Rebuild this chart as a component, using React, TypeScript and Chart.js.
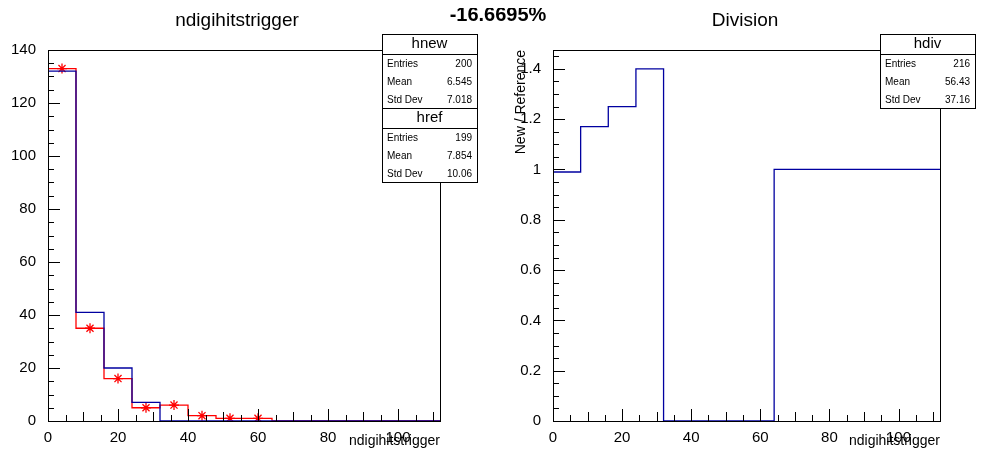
import React, { useEffect, useRef } from "react";
import { Chart, registerables } from "chart.js";
Chart.register(...registerables);

const binEdges = [0, 8, 16, 24, 32, 40, 48, 56, 64, 72, 80, 88, 96, 104, 112];
const hnew = [132, 41, 20, 7, 0, 0, 0, 0, 0, 0, 0, 0, 0, 0];
const href = [133, 35, 16, 5, 6, 2, 1, 1, 0, 0, 0, 0, 0, 0];
const hdiv = [0.99, 1.17, 1.25, 1.4, 0, 0, 0, 0, 1, 1, 1, 1, 1, 1];
const hnewStats = [["Entries", "200"], ["Mean", "6.545"], ["Std Dev", "7.018"]];
const hrefStats = [["Entries", "199"], ["Mean", "7.854"], ["Std Dev", "10.06"]];
const hdivStats = [["Entries", "216"], ["Mean", "56.43"], ["Std Dev", "37.16"]];
const FONT = "'Liberation Sans', Arial, sans-serif";

const stepPts = (v: number[]) => {
  const p: { x: number; y: number }[] = [];
  v.forEach((y, i) => {
    p.push({ x: binEdges[i], y });
    p.push({ x: binEdges[i + 1], y });
  });
  return p;
};

function statBox(ctx: any, x: number, y: number, w: number, title: string, rows: string[][]) {
  const h = 74;
  ctx.save();
  ctx.fillStyle = "#fff";
  ctx.fillRect(x, y, w, h);
  ctx.strokeStyle = "#000";
  ctx.lineWidth = 1;
  ctx.strokeRect(x + 0.5, y + 0.5, w, h);
  ctx.beginPath();
  ctx.moveTo(x, y + 20.5);
  ctx.lineTo(x + w, y + 20.5);
  ctx.stroke();
  ctx.fillStyle = "#000";
  ctx.font = `15px ${FONT}`;
  ctx.textAlign = "center";
  ctx.textBaseline = "middle";
  ctx.fillText(title, x + w / 2, y + 10);
  ctx.font = `10px ${FONT}`;
  rows.forEach((r, i) => {
    const yy = y + 30 + i * 18;
    ctx.textAlign = "left";
    ctx.fillText(r[0], x + 5, yy);
    ctx.textAlign = "right";
    ctx.fillText(r[1], x + w - 5, yy);
  });
  ctx.restore();
}

function makePlugin(opts: any) {
  return {
    id: "rootdeco",
    afterDraw(chart: any) {
      const ctx = chart.ctx;
      const a = chart.chartArea;
      const xs = chart.scales.x, ys = chart.scales.y;
      ctx.save();
      ctx.strokeStyle = "#000";
      ctx.lineWidth = 1;
      ctx.strokeRect(a.left + 0.5, a.top + 0.5, a.right - a.left, a.bottom - a.top);
      ctx.beginPath();
      for (let v = 0; v <= 112; v += 5) {
        const px = Math.round(xs.getPixelForValue(v)) + 0.5;
        const len = v % 20 === 0 ? 12 : v % 10 === 0 ? 9 : 6;
        ctx.moveTo(px, a.bottom);
        ctx.lineTo(px, a.bottom - len);
      }
      for (let k = 0; k * opts.yMinor <= opts.yMax + 1e-9; k++) {
        const v = k * opts.yMinor;
        const py = Math.round(ys.getPixelForValue(v)) + 0.5;
        const len = k % 4 === 0 ? 12 : 6;
        ctx.moveTo(a.left, py);
        ctx.lineTo(a.left + len, py);
      }
      ctx.stroke();
      ctx.fillStyle = "#000";
      ctx.font = `19px ${FONT}`;
      ctx.textAlign = "center";
      ctx.textBaseline = "middle";
      ctx.fillText(opts.title, opts.titleX, 21);
      ctx.font = `14px ${FONT}`;
      ctx.textAlign = "right";
      ctx.textBaseline = "alphabetic";
      ctx.fillText("ndigihitstrigger", a.right, 445);
      if (opts.yTitle) {
        ctx.save();
        ctx.translate(27, a.top);
        ctx.rotate(-Math.PI / 2);
        ctx.textAlign = "right";
        ctx.fillText(opts.yTitle, 0, 0);
        ctx.restore();
      }
      opts.boxes.forEach((b: any) => statBox(ctx, b.x, b.y, b.w, b.title, b.rows));
      ctx.restore();
    },
  };
}

function Panel({ datasets, opts, left, padLeft, padRight, yStep }: any) {
  const ref = useRef<HTMLCanvasElement>(null);
  useEffect(() => {
    const ch = new Chart(ref.current!, {
      type: "line",
      data: { datasets },
      options: {
        animation: false,
        responsive: false,
        layout: { padding: { top: 50, right: padRight, left: 0, bottom: 0 } },
        plugins: { legend: { display: false }, tooltip: { enabled: false } },
        scales: {
          x: {
            type: "linear", min: 0, max: 112,
            grid: { display: false }, border: { display: false },
            ticks: {
              stepSize: 20, color: "#000", font: { family: FONT, size: 15 }, padding: 0, maxRotation: 0,
              callback: (v: any) => (v % 20 === 0 ? String(v) : ""),
            },
            afterFit: (s: any) => { s.height = 51; },
          },
          y: {
            min: 0, max: opts.yMax,
            grid: { display: false }, border: { display: false },
            ticks: {
              stepSize: yStep, color: "#000", font: { family: FONT, size: 15 }, padding: 4,
              callback: (v: any) => {
                const r = v / yStep;
                if (Math.abs(r - Math.round(r)) > 1e-6) return "";
                if (opts.yMax < 2) return Math.abs(v - 1) < 1e-9 ? "1" : Math.abs(v) < 1e-9 ? "0" : Number(v).toFixed(1);
                return String(v);
              },
            },
            afterFit: (s: any) => { s.width = padLeft; },
          },
        },
      },
      plugins: [makePlugin(opts)],
    });
    return () => ch.destroy();
  }, []);
  return <canvas ref={ref} width={498} height={472} style={{ position: "absolute", left, top: 0, width: 498, height: 472 }} />;
}

export default function App() {
  const line = (data: any, color: string) => ({
    data, borderColor: color, borderWidth: 1.3, pointRadius: 0, fill: false, tension: 0,
  });
  const leftSets = [
    line(stepPts(hnew), "#0000a0"),
    line(stepPts(href), "#ff0000"),
    {
      type: "scatter", data: href.map((y, i) => ({ x: binEdges[i] + 4, y })).filter((p) => p.y > 0),
      pointStyle: "star", pointRadius: 5, borderColor: "#ff0000", borderWidth: 1.3, showLine: false,
    },
  ];
  const rightSets = [line(stepPts(hdiv), "#0000a0")];
  return (
    <div style={{ position: "relative", width: 996, height: 472, margin: -8, background: "#fff" }}>
      <Panel datasets={leftSets} left={0} padLeft={48} padRight={58} yStep={20}
        opts={{ yMax: 140, yMinor: 5, title: "ndigihitstrigger", titleX: 237, yTitle: null,
          boxes: [{ x: 382, y: 34, w: 95, title: "hnew", rows: hnewStats }, { x: 382, y: 108, w: 95, title: "href", rows: hrefStats }] }} />
      <Panel datasets={rightSets} left={498} padLeft={55} padRight={56} yStep={0.2}
        opts={{ yMax: 1.475, yMinor: 0.05, title: "Division", titleX: 247, yTitle: "New / Reference",
          boxes: [{ x: 382, y: 34, w: 95, title: "hdiv", rows: hdivStats }] }} />
      <div style={{ position: "absolute", left: 0, width: 996, top: 3, textAlign: "center", font: `bold 20px ${FONT}` }}>-16.6695%</div>
    </div>
  );
}
